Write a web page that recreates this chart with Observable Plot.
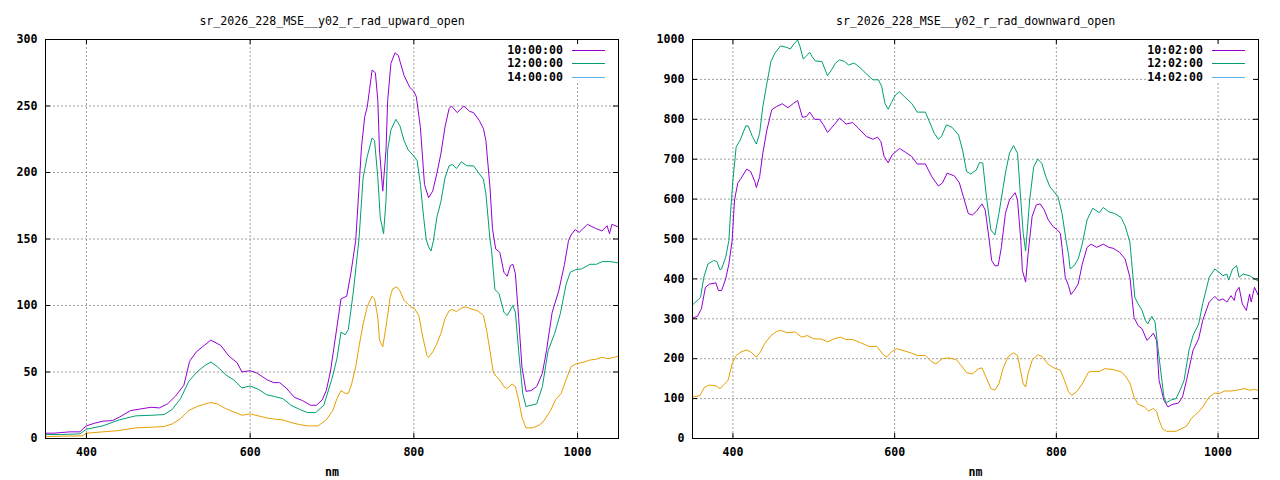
<!DOCTYPE html>
<html><head><meta charset="utf-8">
<script src="https://cdn.jsdelivr.net/npm/d3@7"></script>
<script src="https://cdn.jsdelivr.net/npm/@observablehq/plot@0.6"></script>
<style>
html,body{margin:0;padding:0;background:#fff;}
#wrap{display:flex;width:1280px;height:480px;}
svg{display:block}
</style></head><body><div id="wrap"></div>
<script>
const xDomain = [350, 1050];
const xTicks = [400, 600, 800, 1000];
const upTicks = [0, 50, 100, 150, 200, 250, 300];
const downTicks = [0, 100, 200, 300, 400, 500, 600, 700, 800, 900, 1000];
const upTitle = "sr_2026_228_MSE__y02_r_rad_upward_open";
const downTitle = "sr_2026_228_MSE__y02_r_rad_downward_open";
const upLabels = ["10:00:00", "12:00:00", "14:00:00"];
const downLabels = ["10:02:00", "12:02:00", "14:02:00"];
const legendColors = ["#9400d3", "#009e73", "#56b4e9"];
const lineColors = ["#9400d3", "#009e73", "#e69f00"];
const xLabel = "nm";

const up10 = [[350,4],[360,4],[370,4.5],[380,5],[392,5],[397,8],[400,9.5],[410,11.5],[420,13],[432,13.5],[440,16],[454,21],[469,22.5],[479,23.5],[489,23],[499,26],[509,32],[519,40],[526,58],[534,65],[544,70],[552,74],[564,70],[574,62],[584,57],[590,50],[600,51],[609,49],[621,44],[629,42],[636,42],[644,38],[654,31],[664,28.5],[674,25],[681,25],[688,29],[693,36],[698,50],[703,71],[711,105],[718,107],[723,124],[729,149],[736,219],[740,242],[743,249],[746,263],[749,277],[753,275],[756,254],[758,217],[762,186],[766,217],[768,254],[772,282],[777,290],[781,288],[788,273],[795,264],[800,261],[803,257],[808,234],[813,191],[818,181],[823,186],[828,199],[833,214],[838,234],[843,248],[846,250],[853,245],[861,250],[868,246],[873,245],[880,239],[885,233],[888,224],[893,189],[896,158],[898,150],[900,142.5],[905,140],[910,125],[914,122],[918,130],[921,131],[924,124],[928,91],[932,54],[937,35.5],[943,36],[950,39],[957,49],[962,66],[969,95],[977,111],[984,131],[989,149],[992,153],[997,157],[1002,155],[1012,161],[1022,158],[1030,156],[1036,160],[1039,154],[1042,161],[1050,159]];
const up12 = [[350,3],[370,3],[392,3.5],[400,7],[420,9.5],[440,14],[460,17],[480,17.5],[495,18],[505,22],[515,30],[525,43],[535,50],[545,55],[552,57.5],[560,54],[570,48],[580,44],[590,38],[600,39.5],[610,37],[620,33],[630,31.5],[640,30],[650,25],[660,22],[670,19.5],[680,19.5],[690,25],[700,45],[706,60],[711,80],[716,78],[720,82],[726,110],[733,150],[738,196],[743,212],[749,226],[752,224],[756,196],[759,166],[763,154],[766,179],[768,217],[772,232],[778,240],[783,235],[788,224],[793,217],[799,213],[804,209],[808,191],[812,166],[815,150],[818,144],[821,141],[824,149],[828,166],[833,178],[838,196],[843,205],[847,206],[852,203],[858,208],[865,205],[873,205],[880,199],[885,195],[888,184],[893,150],[895,141],[899,112],[904,109],[910,95],[914,92.5],[921,100],[924,95],[928,66],[933,34],[937,24],[943,25],[950,26],[957,39],[964,66],[972,79],[979,94],[986,116],[991,125],[998,127],[1005,127.5],[1015,131],[1023,131],[1030,133],[1040,133],[1050,132]];
const up14 = [[350,1.5],[395,2],[400,4],[420,5],[440,6],[460,8],[480,8.5],[495,9],[505,11],[515,15],[525,21],[535,24],[545,26],[552,27],[560,26],[570,22.5],[580,20],[590,17.5],[600,18.5],[610,17],[620,15.5],[630,14.5],[640,14],[650,12],[660,10.5],[670,9.5],[683,9.5],[693,14],[701,21],[706,30],[711,36],[716,34],[720,34],[724,41],[729,54],[733,69],[738,86],[743,99],[749,107],[752,105],[756,91],[758,74],[762,69],[766,84],[771,106],[774,112.5],[779,114],[783,111],[788,104],[796,99],[801,97.5],[806,92.5],[811,76],[816,62.5],[818,61],[823,65],[828,71],[833,79],[838,90],[843,96],[847,97],[852,95.5],[858,98],[863,99],[870,97.5],[878,96],[885,92.5],[889,81],[893,66],[897,50],[900,47],[905,44],[910,39],[914,37.5],[920,41],[924,39],[928,29],[932,16],[937,8],[945,8],[953,10],[958,12.5],[967,21],[973,29],[980,34],[985,42.5],[992,54],[998,56],[1008,57.5],[1015,59],[1022,59.5],[1030,61],[1037,60],[1045,61],[1050,62]];

const down10 = [[350,302],[356,306],[361,325],[366,379],[371,387],[379,390],[382,371],[386,371],[391,400],[395,437],[399,496],[402,598],[406,640],[410,652],[417,675],[422,669],[427,644],[429,629],[433,656],[437,715],[442,773],[448,824],[454,832],[461,839],[468,829],[475,840],[480,847],[486,805],[491,807],[495,818],[501,800],[507,800],[512,786],[517,767],[525,786],[532,803],[540,788],[548,792],[555,778],[565,757],[573,750],[579,755],[583,744],[587,707],[592,691],[597,711],[606,727],[613,718],[621,707],[628,688],[638,688],[646,656],[654,633],[659,640],[665,665],[674,658],[680,641],[685,606],[691,564],[696,560],[701,569],[708,588],[712,573],[717,497],[720,446],[724,433],[728,433],[732,479],[737,564],[742,598],[749,616],[752,598],[756,497],[758,421],[762,392],[765,462],[770,556],[775,585],[780,588],[785,573],[790,548],[796,531],[801,523],[805,514],[807,479],[811,404],[815,383],[818,361],[822,371],[827,387],[832,437],[838,479],[843,487],[850,479],[858,487],[865,479],[870,477],[878,467],[885,450],[891,404],[896,304],[901,283],[906,275],[912,246],[916,254],[920,264],[924,246],[927,146],[930,121],[933,96],[938,79],[943,85],[951,89],[956,104],[961,146],[969,221],[976,250],[981,296],[989,342],[996,356],[1001,346],[1006,350],[1011,342],[1016,358],[1020,346],[1022,367],[1026,379],[1030,337],[1035,321],[1039,362],[1041,342],[1045,379],[1050,358]];
const down12 = [[350,335],[356,346],[360,354],[364,404],[369,437],[376,446],[380,444],[384,423],[386,425],[391,454],[395,496],[397,564],[400,648],[404,731],[409,748],[416,784],[419,783],[424,757],[429,738],[433,765],[437,832],[442,890],[447,945],[452,966],[459,984],[467,980],[471,976],[475,988],[480,999],[483,982],[487,951],[491,959],[495,968],[498,957],[502,946],[510,945],[517,909],[522,924],[527,941],[532,949],[538,945],[543,936],[550,941],[558,928],[565,914],[573,899],[580,899],[584,882],[588,840],[592,825],[596,842],[601,861],[606,869],[613,855],[621,840],[628,818],[638,818],[643,794],[649,765],[654,750],[658,757],[664,786],[671,780],[679,761],[684,723],[689,669],[694,663],[701,673],[705,692],[709,690],[714,598],[719,523],[724,510],[729,564],[737,665],[742,715],[747,734],[752,715],[756,598],[759,514],[762,470],[767,598],[772,681],[777,700],[782,690],[787,656],[792,631],[797,619],[802,606],[807,564],[812,497],[815,462],[817,425],[822,433],[827,450],[832,487],[838,548],[845,577],[853,566],[858,579],[865,568],[872,564],[880,554],[885,533],[889,506],[891,492],[893,446],[897,354],[901,338],[906,321],[910,296],[913,287],[918,306],[922,292],[926,221],[930,154],[933,104],[936,89],[941,96],[948,100],[953,121],[958,146],[964,221],[969,258],[976,287],[981,338],[989,404],[996,425],[1001,417],[1006,408],[1011,412],[1013,397],[1018,425],[1023,433],[1026,404],[1031,412],[1039,408],[1050,394]];
const down14 = [[350,104],[359,107],[365,129],[371,134],[379,132],[384,125],[389,135],[394,146],[399,187],[404,208],[410,217],[417,222],[422,217],[429,204],[434,217],[439,237],[447,258],[454,268],[459,271],[467,265],[477,267],[485,254],[492,258],[500,250],[510,249],[517,242],[525,250],[533,254],[540,248],[548,248],[558,240],[568,231],[578,231],[585,212],[590,204],[596,217],[603,225],[613,219],[621,214],[628,208],[638,208],[646,192],[651,187],[659,200],[666,202],[676,198],[681,186],[689,165],[696,162],[704,175],[708,177],[713,154],[719,125],[724,121],[729,137],[734,175],[740,204],[747,215],[752,208],[756,167],[759,137],[762,129],[765,162],[770,196],[777,210],[782,206],[790,186],[797,177],[805,171],[810,146],[815,117],[819,108],[825,117],[832,137],[840,167],[847,168],[853,168],[860,175],[870,173],[880,167],[885,158],[891,139],[896,104],[901,86],[909,79],[914,69],[920,75],[924,68],[927,46],[931,25],[936,18],[948,18],[955,25],[961,31],[967,50],[976,67],[981,79],[989,104],[996,114],[1001,112],[1008,119],[1016,119],[1023,121],[1033,125],[1039,121],[1044,123],[1050,121]];

const FONT = "'DejaVu Sans Mono', 'Liberation Mono', monospace";

function legendMark(labels) {
  return (index, scales, values, dims) => {
    const right = dims.width - dims.marginRight;
    const top = dims.marginTop;
    const g = d3.create("svg:g");
    g.append("rect").attr("x", right - 112).attr("y", top + 2)
      .attr("width", 109).attr("height", 42).attr("fill", "white");
    labels.forEach((l, i) => {
      const y = Math.round(top + 11 + i * 13.3) + 0.5;
      g.append("text").attr("x", right - 55).attr("y", y).attr("dy", "0.34em")
        .attr("text-anchor", "end").attr("font-weight", "bold").attr("fill", "black").text(l);
      g.append("line").attr("x1", right - 46).attr("x2", right - 13)
        .attr("y1", y).attr("y2", y).attr("stroke", legendColors[i]).attr("stroke-width", 1);
    });
    return g.node();
  };
}

function panel({title, series, labels, yDomain, yTicks, marginLeft}) {
  const W = 640, H = 480, mT = 39, mB = 42, mR = 22;
  const fh = H - mT - mB, fw = W - marginLeft - mR;
  const grid = {stroke: "#a0a0a0", strokeOpacity: 1, strokeDasharray: "2,2", strokeWidth: 1};
  return Plot.plot({
    width: W, height: H, marginLeft, marginRight: mR, marginTop: mT, marginBottom: mB,
    x: {domain: xDomain, axis: null},
    y: {domain: yDomain, axis: null},
    style: {fontFamily: FONT, fontSize: "11.6px", color: "black", background: "white", overflow: "visible"},
    marks: [
      Plot.ruleX(xTicks, {x: d => d, ...grid}),
      Plot.ruleY(yTicks.slice(1, -1), {y: d => d, ...grid}),
      ...series.map((s, i) => Plot.line(s, {x: d => d[0], y: d => d[1], stroke: lineColors[i], strokeWidth: 1})),
      legendMark(labels),
      Plot.frame({stroke: "black", strokeWidth: 1}),
      Plot.tickX(xTicks, {x: d => d, insetTop: fh - 5, stroke: "black"}),
      Plot.tickX(xTicks, {x: d => d, insetBottom: fh - 5, stroke: "black"}),
      Plot.tickY(yTicks, {y: d => d, insetRight: fw - 5, stroke: "black"}),
      Plot.tickY(yTicks, {y: d => d, insetLeft: fw - 5, stroke: "black"}),
      Plot.text(xTicks, {x: d => d, text: d => String(d), frameAnchor: "bottom", dy: 14, lineAnchor: "middle", fontWeight: "bold", fill: "black"}),
      Plot.text(yTicks, {y: d => d, text: d => String(d), frameAnchor: "left", dx: -8, textAnchor: "end", lineAnchor: "middle", fontWeight: "bold", fill: "black"}),
      Plot.text([xLabel], {text: d => d, frameAnchor: "bottom", dy: 33.5, lineAnchor: "middle", fontWeight: "bold", fill: "black"}),
      Plot.text([title], {text: d => d, frameAnchor: "top", dy: -18, lineAnchor: "middle", fill: "black"})
    ]
  });
}

const wrap = document.getElementById("wrap");
wrap.append(panel({title: upTitle, series: [up10, up12, up14], labels: upLabels, yDomain: [0, 300], yTicks: upTicks, marginLeft: 45}));
wrap.append(panel({title: downTitle, series: [down10, down12, down14], labels: downLabels, yDomain: [0, 1000], yTicks: downTicks, marginLeft: 52}));
</script></body></html>
